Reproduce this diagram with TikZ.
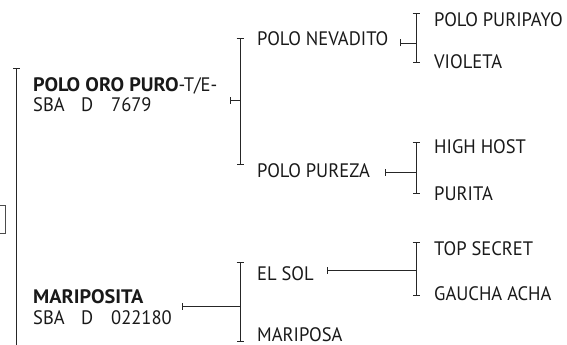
\documentclass[tikz,border=0pt]{standalone}
\usepackage{fontspec}
\setmainfont{PT Sans}[FakeStretch=0.95, BoldFeatures={FakeStretch=1.04}]
\usetikzlibrary{arrows.meta}
\begin{document}
\begin{tikzpicture}[
  x=1pt,
  y=-1pt,
  line join=miter,
  horse/.style={inner sep=0pt, anchor=base west, text=black!90,
    font=\fontsize{19.5}{22}\selectfont},
  brk/.style={line width=0.8pt, draw=black!85,
    {Bar[width=7pt,line width=0.8pt]}-{Bar[width=7pt,line width=0.8pt]}},
  lnk/.style={line width=0.8pt, draw=black!85, {Bar[width=7pt,line width=0.8pt]}-}
]
  \useasboundingbox (0,0) rectangle (567,345);

  % Generation 1
  \node[horse] (oro) at (33,91) {\textbf{POLO ORO PURO}-T/E-};
  \node[horse] (orosba) at (33,111) {\makebox[48pt][l]{SBA}\makebox[30pt][l]{D}7679};
  \node[horse] (mta) at (33,303) {\textbf{MARIPOSITA}};
  \node[horse] (mtasba) at (33,324) {\makebox[48pt][l]{SBA}\makebox[30pt][l]{D}022180};

  % Generation 2
  \node[horse] (nev) at (257,46) {POLO NEVADITO};
  \node[horse] (pur) at (257,177) {POLO PUREZA};
  \node[horse] (sol) at (257,280) {EL SOL};
  \node[horse] (msa) at (257,341) {MARIPOSA};

  % Generation 3
  \node[horse] (pay) at (434,27) {POLO PURIPAYO};
  \node[horse] (vio) at (434,68) {VIOLETA};
  \node[horse] (hig) at (434,153) {HIGH HOST};
  \node[horse] (pta) at (434,200) {PURITA};
  \node[horse] (top) at (434,255) {TOP SECRET};
  \node[horse] (gau) at (434,300) {GAUCHA ACHA};

  % Bracket ends
  \coordinate (root) at (16.5,68);
  \coordinate (rootend) at (16.5,350);
  \coordinate (oroT) at (230,100);
  \coordinate (oroB) at (240,100);
  \coordinate (nevT) at (400,43);
  \coordinate (nevB) at (416,43);
  \coordinate (purT) at (385,172);
  \coordinate (purB) at (416,172);
  \coordinate (mtaT) at (182,306);
  \coordinate (mtaB) at (240,306);
  \coordinate (solT) at (327,270);
  \coordinate (solB) at (416,270);

  % Left edge
  \draw[line width=0.8pt, draw=black!85, {Bar[width=7pt,line width=0.8pt]}-] (root) -- (rootend);
  \draw[line width=0.8pt, draw=black!70] (-10,205) rectangle (5,233);

  % Brackets
  \draw[brk] (240,38) -- (240,165);
  \draw[brk] (416,13) -- (416,63);
  \draw[brk] (416,142) -- (416,194);
  \draw[brk] (240,262) -- (240,342);
  \draw[brk] (416,242) -- (416,296);

  % Links
  \draw[lnk] (oroT) -- (oroB);
  \draw[lnk] (nevT) -- (nevB);
  \draw[lnk] (purT) -- (purB);
  \draw[lnk] (mtaT) -- (mtaB);
  \draw[lnk] (solT) -- (solB);
\end{tikzpicture}
\end{document}
